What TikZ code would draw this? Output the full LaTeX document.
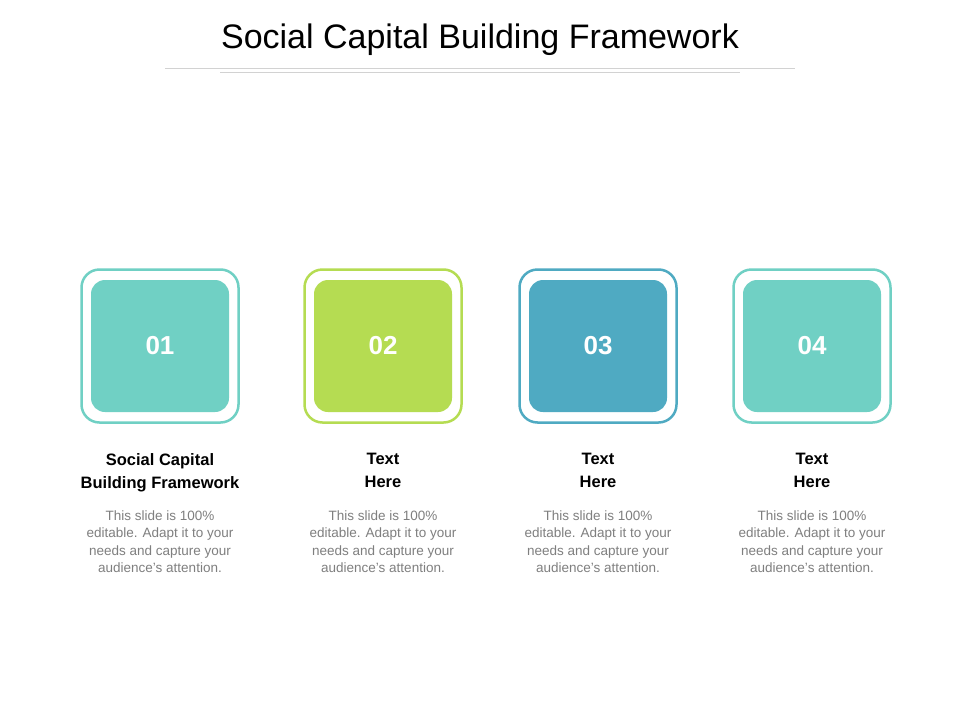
\documentclass[tikz,border=0pt]{standalone}
\usepackage{fontspec}
\setmainfont{Liberation Sans}
\definecolor{cteal}{HTML}{70D0C4}
\definecolor{cgreen}{HTML}{B5DC52}
\definecolor{cblue}{HTML}{4FAAC2}
\definecolor{bodyg}{HTML}{7F7F7F}
\tikzset{
 outerbox/.style={draw=#1,line width=2.5pt,rounded corners=18pt,minimum width=157pt,minimum height=153pt,fill=white},
 innerbox/.style={fill=#1,rounded corners=14pt,minimum width=138pt,minimum height=132pt,text=white,font=\fontsize{26}{30}\selectfont\bfseries},
 head/.style={align=center,font=\fontsize{16.5}{23}\selectfont\bfseries,text=black},
 body/.style={align=center,font=\fontsize{13.5}{17.5}\selectfont,text=bodyg},
}
\begin{document}
\begin{tikzpicture}[x=1pt,y=-1pt]
\useasboundingbox[fill=white] (0,0) rectangle (960,720);
\node[font=\fontsize{34}{40}\selectfont] (title) at (480,40) {Social Capital Building Framework};
\coordinate (l1a) at (165,68); \coordinate (l1b) at (795,68);
\coordinate (l2a) at (220,72); \coordinate (l2b) at (740,72);
\draw[gray!35,line width=0.6pt] (l1a) -- (l1b);
\draw[gray!35,line width=0.6pt] (l2a) -- (l2b);
\foreach \x/\c/\n/\h [count=\i] in {160/cteal/01/{Social Capital\\Building Framework},383/cgreen/02/{Text\\Here},598/cblue/03/{Text\\Here},812/cteal/04/{Text\\Here}}{
 \node[outerbox=\c] (o\i) at (\x,346) {};
 \node[innerbox=\c] (b\i) at (\x,346) {\n};
 \node[head,anchor=north] (h\i) at (\x,450) {\h};
 \node[body,anchor=north] (t\i) at (\x,507) {This slide is 100\%\\editable. Adapt it to your\\needs and capture your\\audience's attention.};
}
\end{tikzpicture}
\end{document}
